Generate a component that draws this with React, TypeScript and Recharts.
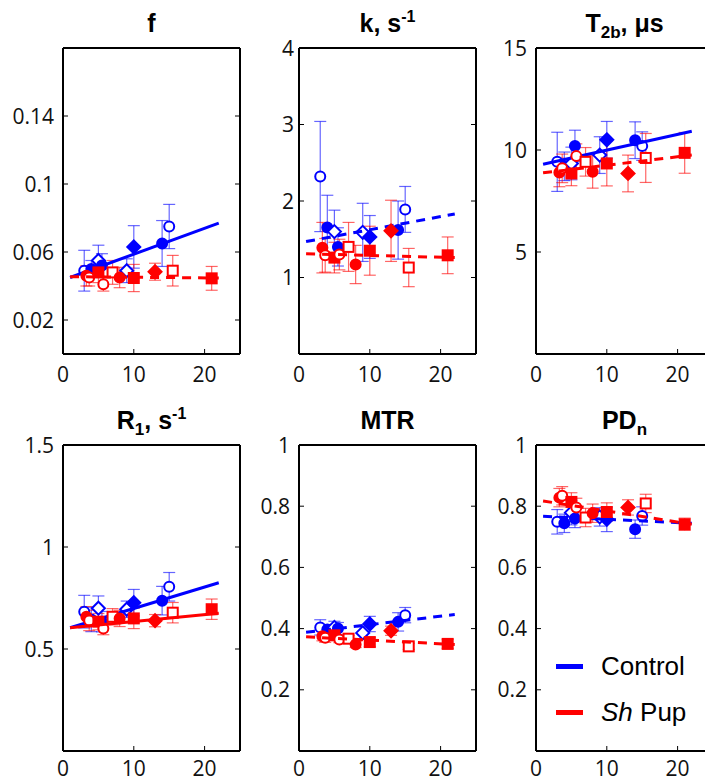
import React from 'react';
import { ComposedChart, Scatter, XAxis, YAxis, ErrorBar, Legend } from 'recharts';

// ---- shared ages (x) and marker kinds ----
const controlAge = [3, 4, 5, 5.5, 9, 10, 14, 15];
const pupAge = [3.3, 3.7, 5, 5.7, 7, 8, 10, 13, 15.5, 21];
const controlMarkers = ['oc', 'fc', 'od', 'fc', 'od', 'fd', 'fc', 'oc'];
const pupMarkers = ['fc', 'oc', 'fs', 'oc', 'os', 'fc', 'fs', 'fd', 'os', 'fs'];
const fitX = [1, 22];
const xTicks = [0, 10, 20];

// ---- f ----
const fControl = [0.049, 0.05, 0.055, 0.052, 0.049, 0.063, 0.065, 0.075];
const fControlErr = [0.012, 0.005, 0.009, 0.007, 0.007, 0.0125, 0.0135, 0.013];
const fPup = [0.046, 0.045, 0.048, 0.041, 0.048, 0.045, 0.0447, 0.0484, 0.049, 0.0445];
const fPupErr = [0.006, 0.005, 0.006, 0.004, 0.007, 0.006, 0.008, 0.005, 0.009, 0.007];
const fControlFit = [0.045, 0.077];
const fPupFit = [0.0455, 0.0447];
const fTicks = [0.02, 0.06, 0.1, 0.14];

// ---- k ----
const kControl = [2.32, 1.655, 1.6, 1.4, 1.59, 1.53, 1.62, 1.89];
const kControlErr = [0.72, 0.42, 0.28, 0.25, 0.38, 0.28, 0.38, 0.3];
const kPup = [1.39, 1.29, 1.26, 1.3, 1.4, 1.17, 1.35, 1.61, 1.13, 1.29];
const kPupErr = [0.33, 0.22, 0.2, 0.2, 0.32, 0.25, 0.32, 0.4, 0.25, 0.24];
const kControlFit = [1.47, 1.83];
const kPupFit = [1.31, 1.26];
const kTicks = [1, 2, 3, 4];

// ---- T2b ----
const tControl = [9.42, 9.2, 9.34, 10.2, 9.75, 10.5, 10.48, 10.19];
const tControlErr = [1.45, 0.7, 0.8, 0.77, 0.9, 0.9, 0.9, 0.7];
const tPup = [8.9, 9.1, 8.85, 9.7, 9.42, 8.93, 9.34, 8.85, 9.61, 9.86];
const tPupErr = [0.7, 0.7, 0.6, 0.6, 0.7, 0.8, 1.1, 0.9, 1.2, 1.0];
const tControlFit = [9.3, 10.92];
const tPupFit = [8.88, 9.75];
const tTicks = [5, 10, 15];

// ---- R1 ----
const rControl = [0.683, 0.645, 0.7, 0.634, 0.695, 0.727, 0.737, 0.805];
const rControlErr = [0.08, 0.06, 0.06, 0.05, 0.04, 0.065, 0.07, 0.07];
const rPup = [0.658, 0.64, 0.634, 0.6, 0.658, 0.65, 0.65, 0.639, 0.678, 0.695];
const rPupErr = [0.05, 0.05, 0.04, 0.03, 0.04, 0.04, 0.05, 0.03, 0.05, 0.05];
const rControlFit = [0.604, 0.825];
const rPupFit = [0.604, 0.675];
const rTicks = [0.5, 1, 1.5];

// ---- MTR ----
const mControl = [0.404, 0.397, 0.404, 0.4, 0.386, 0.415, 0.422, 0.444];
const mControlErr = [0.025, 0.015, 0.02, 0.02, 0.02, 0.025, 0.03, 0.025];
const mPup = [0.375, 0.37, 0.378, 0.364, 0.367, 0.348, 0.356, 0.393, 0.342, 0.35];
const mPupErr = [0.015, 0.015, 0.015, 0.01, 0.01, 0.01, 0.015, 0.015, 0.01, 0.015];
const mControlFit = [0.388, 0.446];
const mPupFit = [0.373, 0.348];
const mTicks = [0.2, 0.4, 0.6, 0.8, 1];

// ---- PDn ----
const pControl = [0.749, 0.744, 0.779, 0.76, 0.765, 0.757, 0.725, 0.768];
const pControlErr = [0.04, 0.03, 0.04, 0.03, 0.03, 0.04, 0.03, 0.03];
const pPup = [0.828, 0.834, 0.814, 0.796, 0.763, 0.777, 0.781, 0.796, 0.809, 0.741];
const pPupErr = [0.03, 0.03, 0.03, 0.03, 0.03, 0.03, 0.03, 0.025, 0.03, 0.02];
const pControlFit = [0.767, 0.744];
const pPupFit = [0.817, 0.741];
const pTicks = [0.2, 0.4, 0.6, 0.8, 1];

const BLUE = '#0000ff';
const RED = '#ff0000';
const PW = 177;
const PH = 306;
const ML = 62;
const MT = 22;
const MR = 8;
const MB = 40;
const AX = 1; // axis thickness reserved (must be > 0 for the axis to render)
const TICK_FONT = '"Open Sans", sans-serif';

const makeShape = (color: string) => (props: any) => {
  const { cx, cy, payload } = props;
  if (cx == null || cy == null) return <g />;
  const m: string = payload.m;
  const fill = m[0] === 'f' ? color : '#ffffff';
  if (m[1] === 'c') return <circle cx={cx} cy={cy} r={5} fill={fill} stroke={color} strokeWidth={2} />;
  if (m[1] === 'd')
    return (
      <polygon
        points={`${cx},${cy - 6.5} ${cx + 6.5},${cy} ${cx},${cy + 6.5} ${cx - 6.5},${cy}`}
        fill={fill}
        stroke={color}
        strokeWidth={2}
      />
    );
  return <rect x={cx - 5} y={cy - 5} width={10} height={10} fill={fill} stroke={color} strokeWidth={2} />;
};

const blueShape = makeShape(BLUE);
const redShape = makeShape(RED);
const noShape = () => <g />;

const makeBottomTick = (offset: number) => (props: any) => {
  const { x, y, payload } = props;
  const v = payload.value;
  return (
    <g>
      {v > 0 && <line x1={x} x2={x} y1={y} y2={y - 5} stroke="#000" strokeWidth={1} />}
      <text x={x} y={y + offset} textAnchor="middle" fontFamily={TICK_FONT} fontSize={21} fill="#111">
        {v}
      </text>
    </g>
  );
};

const TopTick = (props: any) => {
  const { x, y, payload } = props;
  if (payload.value <= 0) return <g />;
  return <line x1={x} x2={x} y1={y} y2={y + 5} stroke="#000" strokeWidth={1} />;
};

const makeLeftTick = (gap: number, top: number) => (props: any) => {
  const { x, y, payload } = props;
  const v = payload.value;
  return (
    <g>
      {v < top && <line x1={x} x2={x + 5} y1={y} y2={y} stroke="#000" strokeWidth={1} />}
      <text x={x - gap} y={y} dy="0.36em" textAnchor="end" fontFamily={TICK_FONT} fontSize={21} fill="#111">
        {String(v)}
      </text>
    </g>
  );
};

const RightTick = (props: any) => {
  const { x, y } = props;
  return <line x1={x} x2={x - 5} y1={y} y2={y} stroke="#000" strokeWidth={1} />;
};

const LegendContent = () => (
  <div style={{ fontFamily: '"Liberation Sans", Arial, sans-serif', fontSize: 26, color: '#000' }}>
    <div style={{ display: 'flex', alignItems: 'center', height: 46 }}>
      <span style={{ display: 'inline-block', width: 27, height: 5, background: BLUE, marginRight: 18 }} />
      Control
    </div>
    <div style={{ display: 'flex', alignItems: 'center', height: 46 }}>
      <span style={{ display: 'inline-block', width: 27, height: 5, background: RED, marginRight: 18 }} />
      <i>Sh</i>
      &nbsp;Pup
    </div>
  </div>
);

type PanelProps = {
  left: number;
  top: number;
  yMax: number;
  yTicks: number[];
  title: React.ReactNode;
  control: number[];
  controlErr: number[];
  pup: number[];
  pupErr: number[];
  controlFit: number[];
  pupFit: number[];
  controlDashed: boolean;
  pupDashed: boolean;
  gap: number;
  xLabelOffset: number;
  legend?: boolean;
};

const Panel = (p: PanelProps) => {
  const cData = controlAge.map((x, i) => ({ x, y: p.control[i], err: p.controlErr[i], m: controlMarkers[i] }));
  const rData = pupAge.map((x, i) => ({ x, y: p.pup[i], err: p.pupErr[i], m: pupMarkers[i] }));
  const cFit = fitX.map((x, i) => ({ x, y: p.controlFit[i] }));
  const rFit = fitX.map((x, i) => ({ x, y: p.pupFit[i] }));
  const axisLine = { stroke: '#000', strokeWidth: 2 };
  return (
    <>
      <div
        style={{
          position: 'absolute',
          left: p.left,
          width: PW,
          top: p.top - 38,
          height: 26,
          lineHeight: '26px',
          textAlign: 'center',
          fontFamily: '"Liberation Sans", Arial, sans-serif',
          fontWeight: 'bold',
          fontSize: 25,
          color: '#000',
          whiteSpace: 'nowrap',
        }}
      >
        {p.title}
      </div>
      <div style={{ position: 'absolute', left: p.left - ML, top: p.top - MT }}>
        <ComposedChart
          width={ML + PW + MR}
          height={MT + PH + MB}
          margin={{ top: MT - AX, right: MR - AX, bottom: MB - AX, left: ML - AX }}
        >
          <XAxis
            dataKey="x"
            type="number"
            domain={[0, 25]}
            ticks={xTicks}
            interval={0}
            height={AX}
            tickSize={0}
            tickMargin={0}
            tickLine={false}
            axisLine={axisLine}
            tick={makeBottomTick(p.xLabelOffset)}
            allowDataOverflow
          />
          <XAxis
            xAxisId="top"
            orientation="top"
            type="number"
            domain={[0, 25]}
            ticks={xTicks}
            interval={0}
            height={AX}
            tickSize={0}
            tickMargin={0}
            tickLine={false}
            axisLine={axisLine}
            tick={TopTick}
            allowDataOverflow
          />
          <YAxis
            dataKey="y"
            type="number"
            domain={[0, p.yMax]}
            ticks={p.yTicks}
            interval={0}
            width={AX}
            tickSize={0}
            tickMargin={0}
            tickLine={false}
            axisLine={axisLine}
            tick={makeLeftTick(p.gap, p.yMax)}
            allowDataOverflow
          />
          <YAxis
            yAxisId="right"
            orientation="right"
            type="number"
            domain={[0, p.yMax]}
            ticks={p.yTicks}
            interval={0}
            width={AX}
            tickSize={0}
            tickMargin={0}
            tickLine={false}
            axisLine={axisLine}
            tick={RightTick}
            allowDataOverflow
          />
          <Scatter data={cData} shape={blueShape} isAnimationActive={false}>
            <ErrorBar dataKey="err" direction="y" width={6} stroke={BLUE} strokeOpacity={0.6} strokeWidth={1.2} />
          </Scatter>
          <Scatter
            data={cFit}
            shape={noShape}
            line={{ stroke: BLUE, strokeWidth: 3, strokeDasharray: p.controlDashed ? '9 7' : undefined }}
            isAnimationActive={false}
          />
          <Scatter data={rData} shape={redShape} isAnimationActive={false}>
            <ErrorBar dataKey="err" direction="y" width={6} stroke={RED} strokeOpacity={0.6} strokeWidth={1.2} />
          </Scatter>
          <Scatter
            data={rFit}
            shape={noShape}
            line={{ stroke: RED, strokeWidth: 3, strokeDasharray: p.pupDashed ? '9 7' : undefined }}
            isAnimationActive={false}
          />
          {p.legend && (
            <Legend
              layout="horizontal"
              verticalAlign="middle"
              align="center"
              content={LegendContent}
              wrapperStyle={{ position: 'absolute', left: 82, top: 198 + MT, width: 160, height: 92 }}
            />
          )}
        </ComposedChart>
      </div>
    </>
  );
};

const sup = (t: string) => (
  <span style={{ fontSize: 16, position: 'relative', top: -10 }}>{t}</span>
);
const sub = (t: string) => (
  <span style={{ fontSize: 17, position: 'relative', top: 6 }}>{t}</span>
);

export default function App() {
  return (
    <div
      style={{
        position: 'absolute',
        left: 0,
        top: 0,
        width: 705,
        height: 783,
        overflow: 'hidden',
        background: '#fff',
      }}
    >
      <Panel left={63} top={48} yMax={0.18} yTicks={fTicks} title="f" control={fControl} controlErr={fControlErr}
        pup={fPup} pupErr={fPupErr} controlFit={fControlFit} pupFit={fPupFit} controlDashed={false} pupDashed={true}
        gap={9} xLabelOffset={28} />
      <Panel left={299} top={48} yMax={4} yTicks={kTicks} title={<>k, s{sup('-1')}</>} control={kControl}
        controlErr={kControlErr} pup={kPup} pupErr={kPupErr} controlFit={kControlFit} pupFit={kPupFit}
        controlDashed={true} pupDashed={true} gap={5} xLabelOffset={28} />
      <Panel left={536} top={48} yMax={15} yTicks={tTicks} title={<>T{sub('2b')}, μs</>} control={tControl}
        controlErr={tControlErr} pup={tPup} pupErr={tPupErr} controlFit={tControlFit} pupFit={tPupFit}
        controlDashed={false} pupDashed={true} gap={9} xLabelOffset={28} />
      <Panel left={63} top={445} yMax={1.5} yTicks={rTicks} title={<>R{sub('1')}, s{sup('-1')}</>} control={rControl}
        controlErr={rControlErr} pup={rPup} pupErr={rPupErr} controlFit={rControlFit} pupFit={rPupFit}
        controlDashed={false} pupDashed={false} gap={9} xLabelOffset={25} />
      <Panel left={299} top={445} yMax={1} yTicks={mTicks} title="MTR" control={mControl} controlErr={mControlErr}
        pup={mPup} pupErr={mPupErr} controlFit={mControlFit} pupFit={mPupFit} controlDashed={true} pupDashed={true}
        gap={9} xLabelOffset={25} />
      <Panel left={536} top={445} yMax={1} yTicks={pTicks} title={<>PD{sub('n')}</>} control={pControl}
        controlErr={pControlErr} pup={pPup} pupErr={pPupErr} controlFit={pControlFit} pupFit={pPupFit}
        controlDashed={true} pupDashed={true} gap={9} xLabelOffset={25} legend />
    </div>
  );
}
